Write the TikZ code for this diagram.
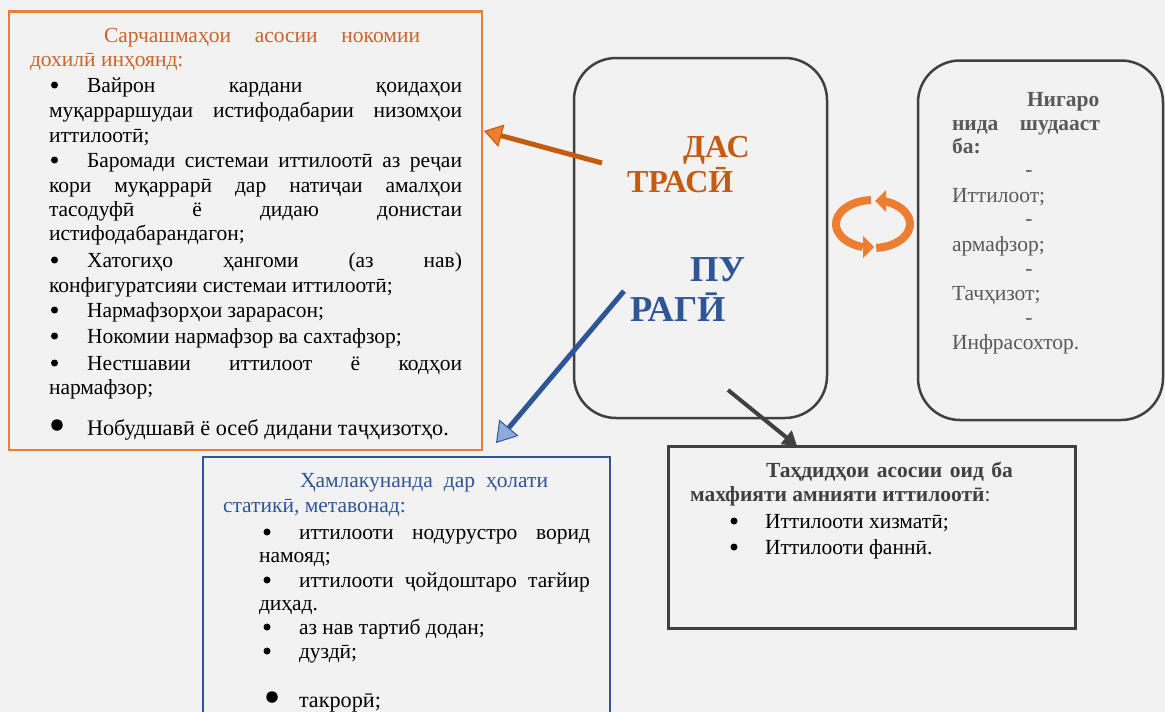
\documentclass[tikz,border=0pt]{standalone}
\usepackage{fontspec}
\setmainfont{Liberation Serif}
\usetikzlibrary{arrows.meta}
\definecolor{bg}{HTML}{F2F2F2}
\definecolor{orT}{HTML}{CC6328}
\definecolor{orB}{HTML}{ED7D31}
\definecolor{orD}{HTML}{C55A11}
\definecolor{blT}{HTML}{2F5597}
\definecolor{blL}{HTML}{8FAADC}
\definecolor{gD}{HTML}{404040}
\definecolor{gT}{HTML}{595959}
\newcommand\myBody{\fontsize{21.5}{24}\selectfont}
\newcommand\myBig{\fontsize{22.2}{24}\selectfont}
\newcommand\myTitle{\fontsize{32}{36}\selectfont\bfseries}
\newcommand\myTitleB{\fontsize{36.5}{40}\selectfont\bfseries}
\newcommand\jl[2]{\makebox[#1][s]{#2}}
\begin{document}
\begin{tikzpicture}[x=1pt,y=-1pt,
  tx/.style={anchor=base west,inner sep=0pt,outer sep=0pt,font=\myBody},
  hy/.style={anchor=base,inner sep=0pt,outer sep=0pt,font=\myBody,text=gT},
  ttl/.style={anchor=base west,inner sep=0pt,outer sep=0pt,font=\myTitle},
  dot/.style={circle,fill=black,minimum size=7pt,inner sep=0pt},
  bigdot/.style={circle,fill=black,minimum size=11.5pt,inner sep=0pt},
  frameO/.style={draw=orB,line width=2.3pt},
  frameB/.style={draw=blT,line width=2.5pt},
  frameG/.style={draw=gD,line width=2.5pt,rounded corners=42pt},
  frameR/.style={draw=gD,line width=3pt},
  band/.style={draw=orB,line width=8pt}]
\path[use as bounding box,fill=bg] (0,0) rectangle (1165,712);
\clip (0,0) rectangle (1165,712);

% ---- frames
\draw[frameO] (9,11.5) rectangle (482,450);
\draw[frameG] (574,58) rectangle (827,418);
\draw[frameG] (918,60.5) rectangle (1163,420);
\draw[frameB] (203,457) rectangle (610,740);
\draw[frameR] (668,446.5) rectangle (1075,628);

% ---- left box text
\node[tx,text=orT] (h1) at (104,42) {\jl{316pt}{Сарчашмаҳои асосии нокомии}};
\node[tx,text=orT] (h2) at (30,66) {дохилӣ инҳоянд:};
\node[dot] (b1) at (54.5,85) {};
\node[tx] (t1) at (87,92) {\jl{375pt}{Вайрон кардани қоидаҳои}};
\node[tx] (t2) at (49,117) {\jl{413pt}{муқарраршудаи истифодабарии низомҳои}};
\node[tx] (t3) at (49,142) {иттилоотӣ;};
\node[dot] (b2) at (54.5,160) {};
\node[tx] (t4) at (87,167) {\jl{375pt}{Баромади системаи иттилоотӣ аз реҷаи}};
\node[tx] (t5) at (49,192) {\jl{413pt}{кори муқаррарӣ дар натиҷаи амалҳои}};
\node[tx] (t6) at (49,216) {\jl{413pt}{тасодуфӣ ё дидаю донистаи}};
\node[tx] (t7) at (49,240) {истифодабарандагон;};
\node[dot] (b3) at (54.5,260) {};
\node[tx] (t8) at (87,267) {\jl{375pt}{Хатогиҳо ҳангоми (аз нав)}};
\node[tx] (t9) at (49,292) {конфигуратсияи системаи иттилоотӣ;};
\node[dot] (b4) at (54.5,310) {};
\node[tx] (t10) at (87,317) {Нармафзорҳои зарарасон;};
\node[dot] (b5) at (54.5,336) {};
\node[tx] (t11) at (87,343) {Нокомии нармафзор ва сахтафзор;};
\node[dot] (b6) at (54.5,363) {};
\node[tx] (t12) at (87,370) {\jl{375pt}{Нестшавии иттилоот ё кодҳои}};
\node[tx] (t13) at (49,394) {нармафзор;};
\node[bigdot] (b7) at (57,425) {};
\node[tx,font=\myBig] (t14) at (87,435) {Нобудшавӣ ё осеб дидани таҷҳизотҳо.};

% ---- centre title
\node[ttl,text=orD] (c1) at (683,157) {ДАС};
\node[ttl,text=orD] (c2) at (627,192) {ТРАСӢ};
\node[ttl,text=blT,font=\myTitleB] (c3) at (690,281) {ПУ};
\node[ttl,text=blT,font=\myTitleB] (c4) at (630,321) {РАГӢ};

% ---- right box
\node[tx,text=gT,font=\myBody\bfseries] (r1) at (1027,106) {Нигаро};
\node[tx,text=gT,font=\myBody\bfseries] (r2) at (952,130) {\jl{148pt}{нида шудааст}};
\node[tx,text=gT,font=\myBody\bfseries] (r3) at (952,153) {ба:};
\node[hy] (d1) at (1029,176) {-};
\node[tx,text=gT] (r4) at (952,202) {Иттилоот;};
\node[hy] (d2) at (1029,225) {-};
\node[tx,text=gT] (r5) at (952,251) {армафзор;};
\node[hy] (d3) at (1029,275) {-};
\node[tx,text=gT] (r6) at (952,300) {Тачҳизот;};
\node[hy] (d4) at (1029,324) {-};
\node[tx,text=gT] (r7) at (952,349) {Инфрасохтор.};

% ---- bottom-left (blue) box
\node[tx,text=blT] (s1) at (300,487) {\jl{248pt}{Ҳамлакунанда дар ҳолати}};
\node[tx,text=blT] (s2) at (223,512) {статикӣ, метавонад:};
\node[dot] (sb1) at (267,532) {};
\node[tx] (s3) at (299,539) {\jl{291pt}{иттилооти нодурустро ворид}};
\node[tx] (s4) at (259,562) {намояд;};
\node[dot] (sb2) at (267,580) {};
\node[tx] (s5) at (299,587) {\jl{291pt}{иттилооти ҷойдоштаро тағйир}};
\node[tx] (s6) at (259,610) {диҳад.};
\node[dot] (sb3) at (267,627) {};
\node[tx] (s7) at (299,634) {аз нав тартиб додан;};
\node[dot] (sb4) at (267,651) {};
\node[tx] (s8) at (299,658) {дуздӣ;};
\node[bigdot] (sb5) at (272,697) {};
\node[tx,font=\myBig] (s9) at (299,707) {такрорӣ;};

% ---- bottom-right box
\node[tx,text=gD,font=\myBody\bfseries] (q1) at (766,477) {\jl{247pt}{Таҳдидҳои асосии оид ба}};
\node[tx,text=gD] (q2) at (690,501) {\textbf{махфияти амнияти иттилоотӣ}:};
\node[dot] (qb1) at (734,521) {};
\node[tx] (q3) at (765,528) {Иттилооти хизматӣ;};
\node[dot] (qb2) at (734,547) {};
\node[tx] (q4) at (765,554) {Иттилооти фаннӣ.};

% ---- connectors
\coordinate (oS) at (602,163);
\coordinate (oT) at (484,131);
\coordinate (bS) at (624,291);
\coordinate (bT) at (496,443);
\coordinate (gS) at (728,390);
\coordinate (gT2) at (797,446);
\draw[orD,line width=5pt,-{Triangle[length=18pt,width=23pt,fill=orB,line width=1pt]}] (oS) -- (oT);
\draw[blT,line width=5pt,-{Triangle[length=20pt,width=25pt,fill=blL,line width=1pt]}] (bS) -- (bT);
\draw[gD,line width=4pt,-{Triangle[length=14pt,width=17pt]}] (gS) -- (gT2);

% ---- cycle arrows (bands + heads)
\coordinate (cy) at (873,224);
\draw[band] (cy) ++(267:37 and 24) arc[start angle=267,end angle=106,x radius=37,y radius=24];
\draw[band] (cy) ++(85:37 and 24) arc[start angle=85,end angle=-73,x radius=37,y radius=24];
\fill[orB] (874,247) -- (863,236) -- (863,258) -- cycle;
\fill[orB] (875,201) -- (886,190) -- (886,212) -- cycle;
\end{tikzpicture}
\end{document}
